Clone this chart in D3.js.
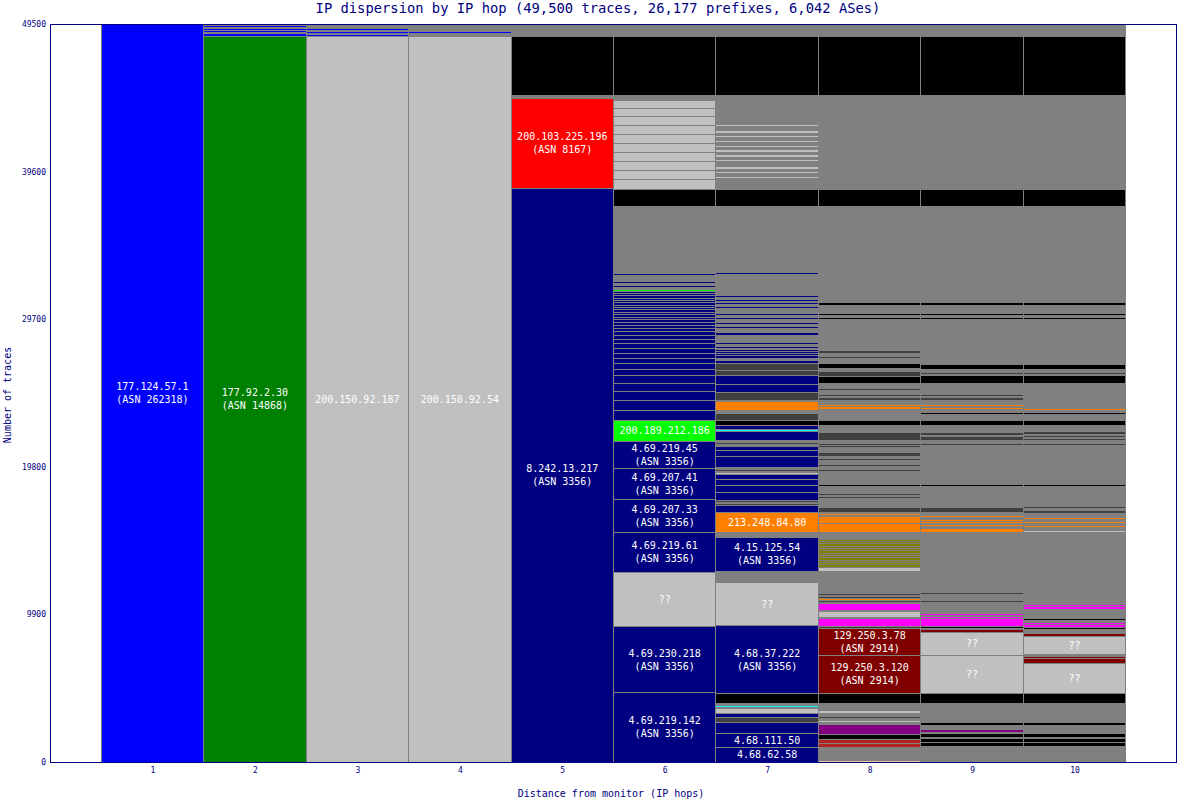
<!DOCTYPE html>
<html>
<head>
<meta charset="utf-8">
<script src="https://cdn.jsdelivr.net/npm/d3@7"></script>
<style>
  body { margin: 0; background: #fff; }
  svg { display: block; }
  text { font-family: "DejaVu Sans Mono", monospace; }
</style>
</head>
<body>
<svg id="chart" width="1178" height="800"></svg>
<script>
const titleText = "IP dispersion by IP hop (49,500 traces, 26,177 prefixes, 6,042 ASes)";
const totalTraces = 49500;
const hops = [1, 2, 3, 4, 5, 6, 7, 8, 9, 10];
const yTicks = [0, 9900, 19800, 29700, 39600, 49500];

// colour of each AS / state
const palette = {
  b: "#0000ff", g: "#008000", s: "#c0c0c0", n: "#000080", r: "#ff0000",
  k: "#000000", _: "#808080", d: "#404040", G: "#00ff00", c: "#00ffff",
  o: "#ff8000", m: "#800000", M: "#ff00ff", p: "#800080", f: "#b22222",
  y: "#808000", t: "#f0c0a0"
};

// segments per hop, bottom to top: [traces, colour, label, label2]
const hop1 = [[49500, "b", "177.124.57.1", "(ASN 262318)"]];
const hop2 = [[48650, "g", "177.92.2.30", "(ASN 14868)"], [240, "b"], [30, "_"], [130, "b"], [30, "_"], [130, "b"], [30, "_"], [130, "b"]];
const hop3 = [[48650, "s", "200.150.92.187"], [40, "_"], [130, "b"], [60, "_"], [130, "b"], [60, "_"], [130, "b"]];
const hop4 = [[48650, "s", "200.150.92.54"], [200, "_"], [130, "b"]];
const hop5 = [[38500, "n", "8.242.13.217", "(ASN 3356)"], [6000, "r", "200.103.225.196", "(ASN 8167)"], [235, "_"], [3910, "k"]];
const hop6 = [
  [4630, "n", "4.69.219.142", "(ASN 3356)"], [4490, "n", "4.69.230.218", "(ASN 3356)"], [3620, "s", "??"],
  [2650, "n", "4.69.219.61", "(ASN 3356)"], [2215, "n", "4.69.207.33", "(ASN 3356)"], [2080, "n", "4.69.207.41", "(ASN 3356)"],
  [1845, "n", "4.69.219.45", "(ASN 3356)"], [1360, "G", "200.189.212.186"],
  [690, "n"], [670, "n"], [600, "n"], [540, "n"], [540, "n"], [380, "n"], [400, "n"], [360, "n"], [335, "n"], [335, "n"],
  [315, "n"], [315, "n"], [270, "n"], [245, "n"], [220, "n"], [200, "n"], [180, "n"], [180, "n"], [180, "n"], [155, "n"],
  [155, "n"], [180, "n"], [155, "n"], [155, "n"], [155, "n"], [155, "n"], [155, "n"], [155, "n"], [180, "n"], [135, "n"],
  [135, "G"], [100, "_"], [135, "n"], [135, "_"], [135, "n"], [400, "_"], [120, "n"],
  [4551, "_"], [1140, "k"],
  [610, "s"], [610, "s"], [610, "s"], [610, "s"], [610, "s"], [610, "s"], [610, "s"], [580, "s"], [560, "s"], [535, "s"],
  [360, "_"], [3910, "k"]
];
const hop7 = [
  [985, "n", "4.68.62.58"], [940, "n", "4.68.111.50"], [710, "n"], [335, "d"], [270, "n"], [315, "s"], [90, "_"], [120, "c"], [150, "_"], [700, "k"],
  [4507, "n", "4.68.37.222", "(ASN 3356)"], [2951, "s", "??"], [690, "_"],
  [2328, "n", "4.15.125.54", "(ASN 3356)"], [315, "_"], [1315, "o", "213.248.84.80"],
  [495, "n"], [135, "d"], [70, "_"], [130, "d"], [535, "n"], [430, "n"], [400, "n"], [360, "n"], [120, "s"], [100, "_"],
  [110, "d"], [120, "_"], [740, "n"], [400, "n"], [320, "n"], [120, "_"], [120, "d"], [150, "_"], [560, "n"], [150, "c"],
  [255, "n"], [355, "k"], [470, "d"], [230, "_"], [600, "o"], [40, "_"], [565, "d"], [535, "n"], [575, "n"], [360, "d"],
  [490, "d"], [155, "n"], [180, "_"], [160, "n"], [155, "n"],
  [120, "n"], [35, "_"], [135, "n"], [35, "_"], [135, "n"], [150, "_"], [135, "n"], [455, "_"], [220, "n"], [270, "_"],
  [135, "n"], [135, "_"], [135, "n"], [200, "_"], [135, "n"], [115, "_"], [135, "n"], [355, "_"], [135, "n"], [115, "_"],
  [135, "n"], [65, "_"], [135, "n"], [135, "_"], [135, "n"], [1420, "_"], [135, "n"],
  [4435, "_"], [1140, "k"],
  [718, "_"], [135, "s"], [220, "_"], [135, "s"], [135, "_"], [135, "s"], [400, "_"], [135, "s"], [135, "_"], [135, "s"],
  [200, "_"], [135, "s"], [135, "_"], [135, "s"], [200, "_"], [135, "s"], [200, "_"], [135, "s"], [200, "_"], [135, "s"],
  [270, "_"], [135, "s"],
  [2007, "_"], [3910, "k"]
];
const hop8 = [
  [100, "t"], [880, "_"], [270, "f"], [270, "f"], [300, "k"], [710, "p"], [140, "_"], [120, "s"], [150, "_"], [120, "d"],
  [100, "_"], [120, "d"], [200, "s"], [413, "_"], [715, "k"],
  [2568, "m", "129.250.3.120", "(ASN 2914)"], [1790, "m", "129.250.3.78", "(ASN 2914)"],
  [110, "d"], [580, "M"], [40, "_"], [430, "s"], [50, "_"], [440, "M"], [50, "_"], [135, "d"], [135, "o"], [135, "d"],
  [100, "_"], [135, "d"], [1490, "_"], [270, "s"],
  [156, "y"], [156, "y"], [156, "y"], [156, "y"], [156, "y"], [156, "y"], [156, "y"], [156, "y"], [156, "y"], [156, "y"], [156, "y"], [156, "y"],
  [470, "_"], [580, "o"], [470, "o"], [50, "_"], [135, "o"], [100, "_"], [345, "d"], [580, "_"], [135, "d"], [90, "_"],
  [135, "d"], [440, "_"], [115, "k"],
  [900, "_"], [135, "d"], [200, "_"], [135, "d"], [300, "_"], [135, "d"], [100, "_"], [300, "d"], [300, "_"], [135, "d"],
  [135, "d"], [230, "_"], [540, "d"], [470, "_"], [300, "k"],
  [720, "_"], [200, "o"], [170, "o"], [230, "_"], [230, "d"], [70, "_"], [135, "d"], [270, "_"], [135, "d"], [330, "_"],
  [500, "k"], [330, "d"], [150, "_"], [330, "k"], [350, "_"], [170, "d"], [200, "_"], [170, "d"],
  [2113, "_"], [135, "k"], [100, "_"], [135, "k"], [570, "_"], [200, "k"],
  [6450, "_"], [1140, "k"], [6305, "_"], [3910, "k"]
];
const hop9 = [
  [1020, "_"], [270, "k"], [270, "k"], [70, "_"], [250, "k"], [70, "_"], [200, "p"], [30, "_"], [90, "p"], [170, "_"],
  [190, "k"], [190, "_"], [130, "k"], [210, "_"], [120, "k"], [613, "_"], [715, "k"],
  [2522, "s", "??"], [40, "_"], [1545, "s", "??"],
  [180, "m"], [40, "_"], [135, "k"], [40, "_"], [540, "M"], [130, "M"], [60, "_"], [130, "M"], [710, "_"], [135, "d"],
  [400, "_"], [135, "d"],
  [4070, "_"], [270, "o"], [80, "_"], [135, "o"], [100, "_"], [135, "o"], [135, "o"], [120, "_"], [135, "o"], [200, "_"],
  [360, "d"], [1380, "_"], [115, "k"],
  [2640, "_"], [135, "d"], [220, "_"], [270, "d"], [80, "_"], [200, "d"], [470, "_"], [300, "k"], [400, "_"], [135, "k"],
  [180, "_"], [160, "o"], [60, "_"], [120, "o"], [270, "_"], [190, "d"], [110, "_"], [140, "d"], [690, "_"], [540, "k"],
  [100, "d"], [135, "d"], [200, "_"], [330, "k"],
  [3040, "_"], [135, "k"], [100, "_"], [135, "k"], [570, "_"], [200, "k"],
  [6451, "_"], [1140, "k"], [6305, "_"], [3910, "k"]
];
const hop10 = [
  [1020, "_"], [270, "k"], [270, "k"], [70, "_"], [250, "k"], [560, "_"], [190, "k"], [190, "_"], [130, "k"], [210, "_"],
  [120, "k"], [613, "_"], [715, "k"],
  [2010, "s", "??"], [335, "m"], [135, "m"], [100, "_"], [1210, "s", "??"], [220, "m"], [250, "_"], [120, "k"], [60, "_"],
  [200, "M"], [135, "M"], [100, "_"], [140, "k"], [600, "_"], [220, "M"], [135, "M"],
  [4842, "_"], [135, "s"], [200, "_"], [135, "o"], [120, "_"], [135, "o"], [120, "_"], [135, "o"], [300, "_"], [200, "d"],
  [80, "_"], [135, "d"], [1355, "_"], [115, "k"],
  [2640, "_"], [135, "d"], [220, "_"], [150, "d"], [50, "_"], [135, "d"], [80, "_"], [150, "d"], [455, "_"], [300, "k"],
  [400, "_"], [135, "k"], [150, "_"], [135, "o"], [1635, "_"], [540, "k"], [100, "d"], [135, "d"], [200, "_"], [330, "k"],
  [3040, "_"], [135, "k"], [100, "_"], [135, "k"], [570, "_"], [200, "k"],
  [6451, "_"], [1140, "k"], [6305, "_"], [3910, "k"]
];
const columns = [hop1, hop2, hop3, hop4, hop5, hop6, hop7, hop8, hop9, hop10];

const svg = d3.select("#chart");
const plotL = 50, plotR = 1177, plotT = 24, plotB = 762;

const x = d3.scaleLinear().domain([0, hops.length + 1]).range([plotL, plotR]);
const y = d3.scaleLinear().domain([0, totalTraces]).range([plotB, plotT]);

svg.append("rect").attr("width", 1178).attr("height", 800).attr("fill", "#fff");

// stack the segments of every hop
const segs = [];
columns.forEach((col, i) => {
  let cum = 0;
  col.forEach(s => {
    segs.push({ hop: hops[i], y0: cum, y1: cum + s[0], color: palette[s[1]], labels: s.slice(2) });
    cum += s[0];
  });
});

const g = svg.append("g").attr("shape-rendering", "crispEdges");

g.selectAll(".bg")
  .data(hops)
  .enter()
  .append("rect")
  .attr("x", d => x(d - 0.5))
  .attr("y", y(totalTraces))
  .attr("width", x(1) - x(0))
  .attr("height", y(0) - y(totalTraces))
  .attr("fill", palette._);

g.selectAll(".seg")
  .data(segs)
  .enter()
  .append("rect")
  .attr("x", d => x(d.hop - 0.5))
  .attr("y", d => y(d.y1))
  .attr("width", x(1) - x(0))
  .attr("height", d => y(d.y0) - y(d.y1))
  .attr("fill", d => d.color)
  .attr("stroke", "#808080")
  .attr("stroke-width", 1);

const lab = svg.append("g")
  .selectAll(".lab")
  .data(segs.filter(d => d.labels.length))
  .enter()
  .append("text")
  .attr("x", d => x(d.hop))
  .attr("y", d => (y(d.y0) + y(d.y1)) / 2)
  .attr("text-anchor", "middle")
  .attr("fill", "#fff")
  .attr("font-size", 10);

lab.selectAll("tspan")
  .data(d => d.labels.map((t, i) => ({ t, hop: d.hop, dy: d.labels.length === 1 ? 0.35 : (i === 0 ? -0.3 : 1.3) })))
  .enter()
  .append("tspan")
  .attr("x", d => x(d.hop))
  .attr("dy", d => d.dy + "em")
  .text(d => d.t);

// frame
svg.append("rect")
  .attr("x", plotL + 0.5).attr("y", plotT + 0.5)
  .attr("width", plotR - plotL - 1).attr("height", plotB - plotT)
  .attr("fill", "none").attr("stroke", "#000080");

const yAxis = svg.append("g")
  .attr("transform", `translate(${plotL},0)`)
  .call(d3.axisLeft(y).tickValues(yTicks).tickSize(0).tickPadding(4).tickFormat(d3.format("d")));
yAxis.select(".domain").remove();
yAxis.selectAll("text").attr("fill", "#000080").attr("font-size", 8).attr("font-family", "DejaVu Sans Mono");

const xAxis = svg.append("g")
  .attr("transform", `translate(0,${plotB})`)
  .call(d3.axisBottom(x).tickValues(hops).tickSize(0).tickPadding(5));
xAxis.select(".domain").remove();
xAxis.selectAll("text").attr("fill", "#000080").attr("font-size", 8).attr("font-family", "DejaVu Sans Mono");

svg.append("text")
  .attr("x", 598).attr("y", 13)
  .attr("text-anchor", "middle")
  .attr("fill", "#000080")
  .attr("font-size", 13.8)
  .text(titleText);

svg.append("text")
  .attr("x", 611).attr("y", 797)
  .attr("text-anchor", "middle")
  .attr("fill", "#000080")
  .attr("font-size", 10)
  .text("Distance from monitor (IP hops)");

svg.append("text")
  .attr("transform", "translate(11,395) rotate(-90)")
  .attr("text-anchor", "middle")
  .attr("fill", "#000080")
  .attr("font-size", 10)
  .text("Number of traces");
</script>
</body>
</html>
